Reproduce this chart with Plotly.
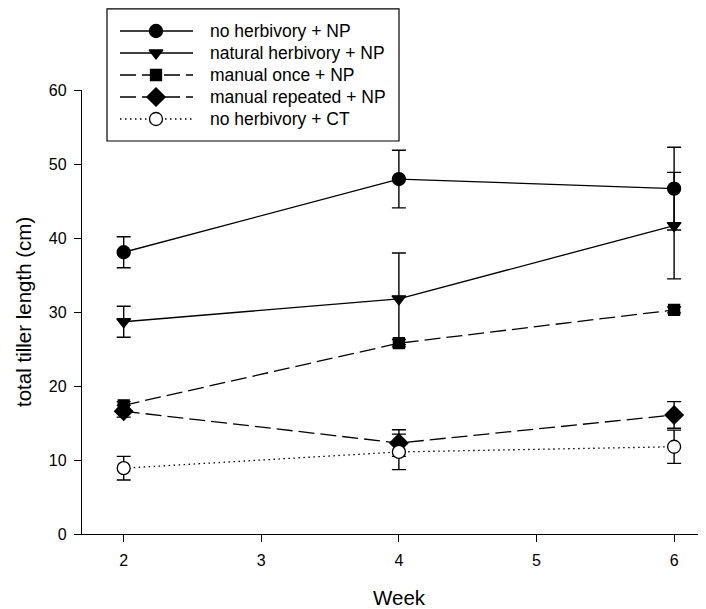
import plotly.graph_objects as go

weeks = [2, 4, 6]
series_names = ["no herbivory + NP", "natural herbivory + NP", "manual once + NP",
                "manual repeated + NP", "no herbivory + CT"]
no_herb_np = [38.1, 48.0, 46.7]
no_herb_np_err = [2.1, 3.9, 5.6]
natural_np = [28.7, 31.8, 41.7]
natural_np_err = [2.1, 6.2, 7.2]
manual_once_np = [17.4, 25.8, 30.3]
manual_once_np_err = [0.5, 0.5, 0.4]
manual_rep_np = [16.6, 12.3, 16.1]
manual_rep_np_err = [0.8, 1.8, 1.8]
no_herb_ct = [8.9, 11.1, 11.8]
no_herb_ct_err = [1.6, 2.4, 2.25]

values = [no_herb_np, natural_np, manual_once_np, manual_rep_np, no_herb_ct]
errors = [no_herb_np_err, natural_np_err, manual_once_np_err, manual_rep_np_err, no_herb_ct_err]

styles = [
    dict(symbol="circle", size=13, fill="black", dash="solid"),
    dict(symbol="triangle-down", size=12, fill="black", dash="solid"),
    dict(symbol="square", size=11, fill="black", dash="16px,6px"),
    dict(symbol="diamond", size=14, fill="black", dash="16px,6px"),
    dict(symbol="circle", size=13, fill="white", dash="1.5px,3.5px"),
]

W, H = 706, 609
FONT = "Liberation Sans, Arial, sans-serif"

fig = go.Figure()

for name, v, e, st in zip(series_names, values, errors, styles):
    fig.add_trace(go.Scatter(
        x=weeks, y=v, name=name, mode="lines+markers",
        line=dict(color="black", width=1.3, dash=st["dash"]),
        marker=dict(symbol=st["symbol"], size=st["size"], color=st["fill"],
                    line=dict(color="black", width=1.3)),
        error_y=dict(type="data", array=e, visible=True, color="black",
                     thickness=1.4, width=7),
        showlegend=False, cliponaxis=False,
    ))

# custom legend (pixel coordinates on an overlay axis spanning the whole figure)
leg_rows = [23, 45, 67, 89, 111]
for name, st, ry in zip(series_names, styles, leg_rows):
    fig.add_trace(go.Scatter(
        x=[112, 185], y=[ry, ry], mode="lines", xaxis="x2", yaxis="y2",
        line=dict(color="black", width=1.3, dash=st["dash"]),
        showlegend=False, hoverinfo="skip"))
    fig.add_trace(go.Scatter(
        x=[148], y=[ry], mode="markers", xaxis="x2", yaxis="y2",
        marker=dict(symbol=st["symbol"], size=st["size"], color=st["fill"],
                    line=dict(color="black", width=1.3)),
        showlegend=False, hoverinfo="skip", cliponaxis=False))
    fig.add_annotation(x=200, y=ry, xref="x2", yref="y2", text=name,
                       showarrow=False, xanchor="left", yanchor="middle",
                       font=dict(size=17.5, color="black", family=FONT))

fig.add_shape(type="rect", xref="x2", yref="y2", x0=99, x1=391, y0=0.8, y1=133,
              line=dict(color="black", width=1.2), fillcolor="rgba(0,0,0,0)")

fig.add_annotation(x=15, y=304, xref="x2", yref="y2", text="total tiller length (cm)",
                   textangle=-90, showarrow=False,
                   font=dict(size=20.5, color="black", family=FONT))
fig.add_annotation(x=391, y=589, xref="x2", yref="y2", text="Week",
                   showarrow=False, font=dict(size=20.5, color="black", family=FONT))

fig.update_layout(
    width=W, height=H,
    margin=dict(l=0, r=0, t=0, b=0, autoexpand=False),
    paper_bgcolor="white", plot_bgcolor="rgba(0,0,0,0)",
    font=dict(family=FONT, size=16, color="black"),
    xaxis=dict(domain=[74 / W, 1], range=[1.697, 6.290], tickvals=[2, 3, 4, 5, 6],
               ticks="outside", ticklen=7, tickwidth=1.3, tickcolor="black",
               showline=True, linecolor="black", linewidth=1.3, showgrid=False,
               zeroline=False, anchor="y", ticklabelstandoff=5,
               tickfont=dict(size=16)),
    yaxis=dict(domain=[(H - 526) / H, (H - 82.3) / H], range=[0, 60],
               tickvals=[0, 10, 20, 30, 40, 50, 60],
               ticks="outside", ticklen=7, tickwidth=1.3, tickcolor="black",
               showline=True, linecolor="black", linewidth=1.3, showgrid=False,
               zeroline=False, anchor="x", ticklabelstandoff=4,
               tickfont=dict(size=16)),
    xaxis2=dict(domain=[0, 1], range=[0, W], visible=False, anchor="y2",
                fixedrange=True),
    yaxis2=dict(domain=[0, 1], range=[H, 0], visible=False, anchor="x2",
                fixedrange=True),
)

fig.write_html("out.html")
